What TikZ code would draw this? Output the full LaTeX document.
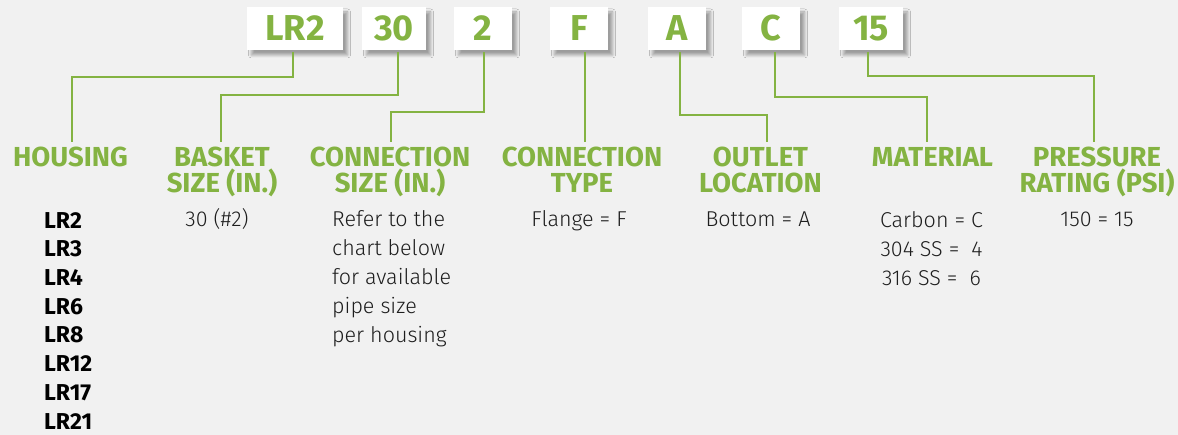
\documentclass[tikz,border=0pt]{standalone}
\usepackage{fontspec}
\setmainfont{Fira Sans}
\newfontfamily\lightfont{Fira Sans Light}
\usetikzlibrary{shadows.blur}
\definecolor{lrgreen}{HTML}{84B342}
\definecolor{bgcol}{HTML}{F1F1F1}
\definecolor{ink}{HTML}{1E1E1E}
\begin{document}
\begin{tikzpicture}[x=1pt,y=-1pt,
  codebox/.style={fill=white, minimum height=43pt, inner sep=0pt,
    blur shadow={shadow xshift=4.5pt, shadow yshift=-5pt, shadow blur steps=6,
      shadow blur radius=3pt, shadow opacity=35},
    font=\fontsize{36}{36}\selectfont\bfseries, text=lrgreen},
  conn/.style={draw=lrgreen, line width=1.6pt},
  heading/.style={anchor=north, inner sep=0pt, align=center, text=lrgreen,
    font=\fontsize{27.5}{26}\selectfont\bfseries},
  listtext/.style={inner sep=0pt, text=black, font=\fontsize{23}{28.7}\selectfont\bfseries},
  bodytext/.style={inner sep=0pt, text=ink, font=\fontsize{21.5}{29}\selectfont\lightfont}]
\path[use as bounding box, fill=bgcol] (0,0) rectangle (1178,435);

% code boxes
\node[codebox, minimum width=96pt] (b1) at (295,28.5) {LR2};
\node[codebox, minimum width=64pt] (b2) at (394,28.5) {30};
\node[codebox, minimum width=58pt] (b3) at (483,28.5) {2};
\node[codebox, minimum width=58pt] (b4) at (579,28.5) {F};
\node[codebox, minimum width=58pt] (b5) at (677,28.5) {A};
\node[codebox, minimum width=58pt] (b6) at (771,28.5) {C};
\node[codebox, minimum width=64pt] (b7) at (871,28.5) {15};

% headings
\node[heading] (h1) at (70.5,147) {HOUSING};
\node[heading] (h2) at (222,147) {BASKET\\SIZE (IN.)};
\node[heading] (h3) at (390,147) {CONNECTION\\SIZE (IN.)};
\node[heading] (h4) at (582,147) {CONNECTION\\TYPE};
\node[heading] (h5) at (760.5,147) {OUTLET\\LOCATION};
\node[heading] (h6) at (932.5,147) {MATERIAL};
\node[heading] (h7) at (1097,147) {PRESSURE\\RATING (PSI)};

% connector ends
\coordinate (e1) at (72,142);
\coordinate (e2) at (221,142);
\coordinate (e3) at (391,142);
\coordinate (e4) at (585,142);
\coordinate (e5) at (767,142);
\coordinate (e6) at (927,142);
\coordinate (e7) at (1094,142);

\draw[conn] ([xshift=-2pt,yshift=-2pt]b1.south) -- ++(0,25) -| (e1);
\draw[conn] ([xshift=4pt,yshift=-2pt]b2.south) -- ++(0,43) -| (e2);
\draw[conn] ([xshift=1pt,yshift=-2pt]b3.south) -- ++(0,60) -| (e3);
\draw[conn] ([xshift=6pt,yshift=-2pt]b4.south) -- (e4);
\draw[conn] ([xshift=3pt,yshift=-2pt]b5.south) -- ++(0,63) -| (e5);
\draw[conn] ([xshift=4pt,yshift=-2pt]b6.south) -- ++(0,45) -| (e6);
\draw[conn] ([xshift=-3pt,yshift=-2pt]b7.south) -- ++(0,24) -| (e7);

% values
\node[listtext, anchor=north west, align=left] (l1) at (44,212)
  {LR2\\LR3\\LR4\\LR6\\LR8\\LR12\\LR17\\LR21};
\node[bodytext, anchor=base] (l2) at (217,227) {30 (\#2)};
\node[bodytext, anchor=north west, align=left] (l3) at (332,210)
  {Refer to the\\chart below\\for available\\pipe size\\per housing};
\node[bodytext, anchor=base] (l4) at (579,227) {Flange = F};
\node[bodytext, anchor=base] (l5) at (758,227) {Bottom = A};
\node[bodytext, anchor=north, align=center] (l6) at (931.5,211)
  {Carbon = C\\304 SS =\ \ 4\\316 SS =\ \ 6};
\node[bodytext, anchor=base] (l7) at (1097,227) {150 = 15};
\end{tikzpicture}
\end{document}
